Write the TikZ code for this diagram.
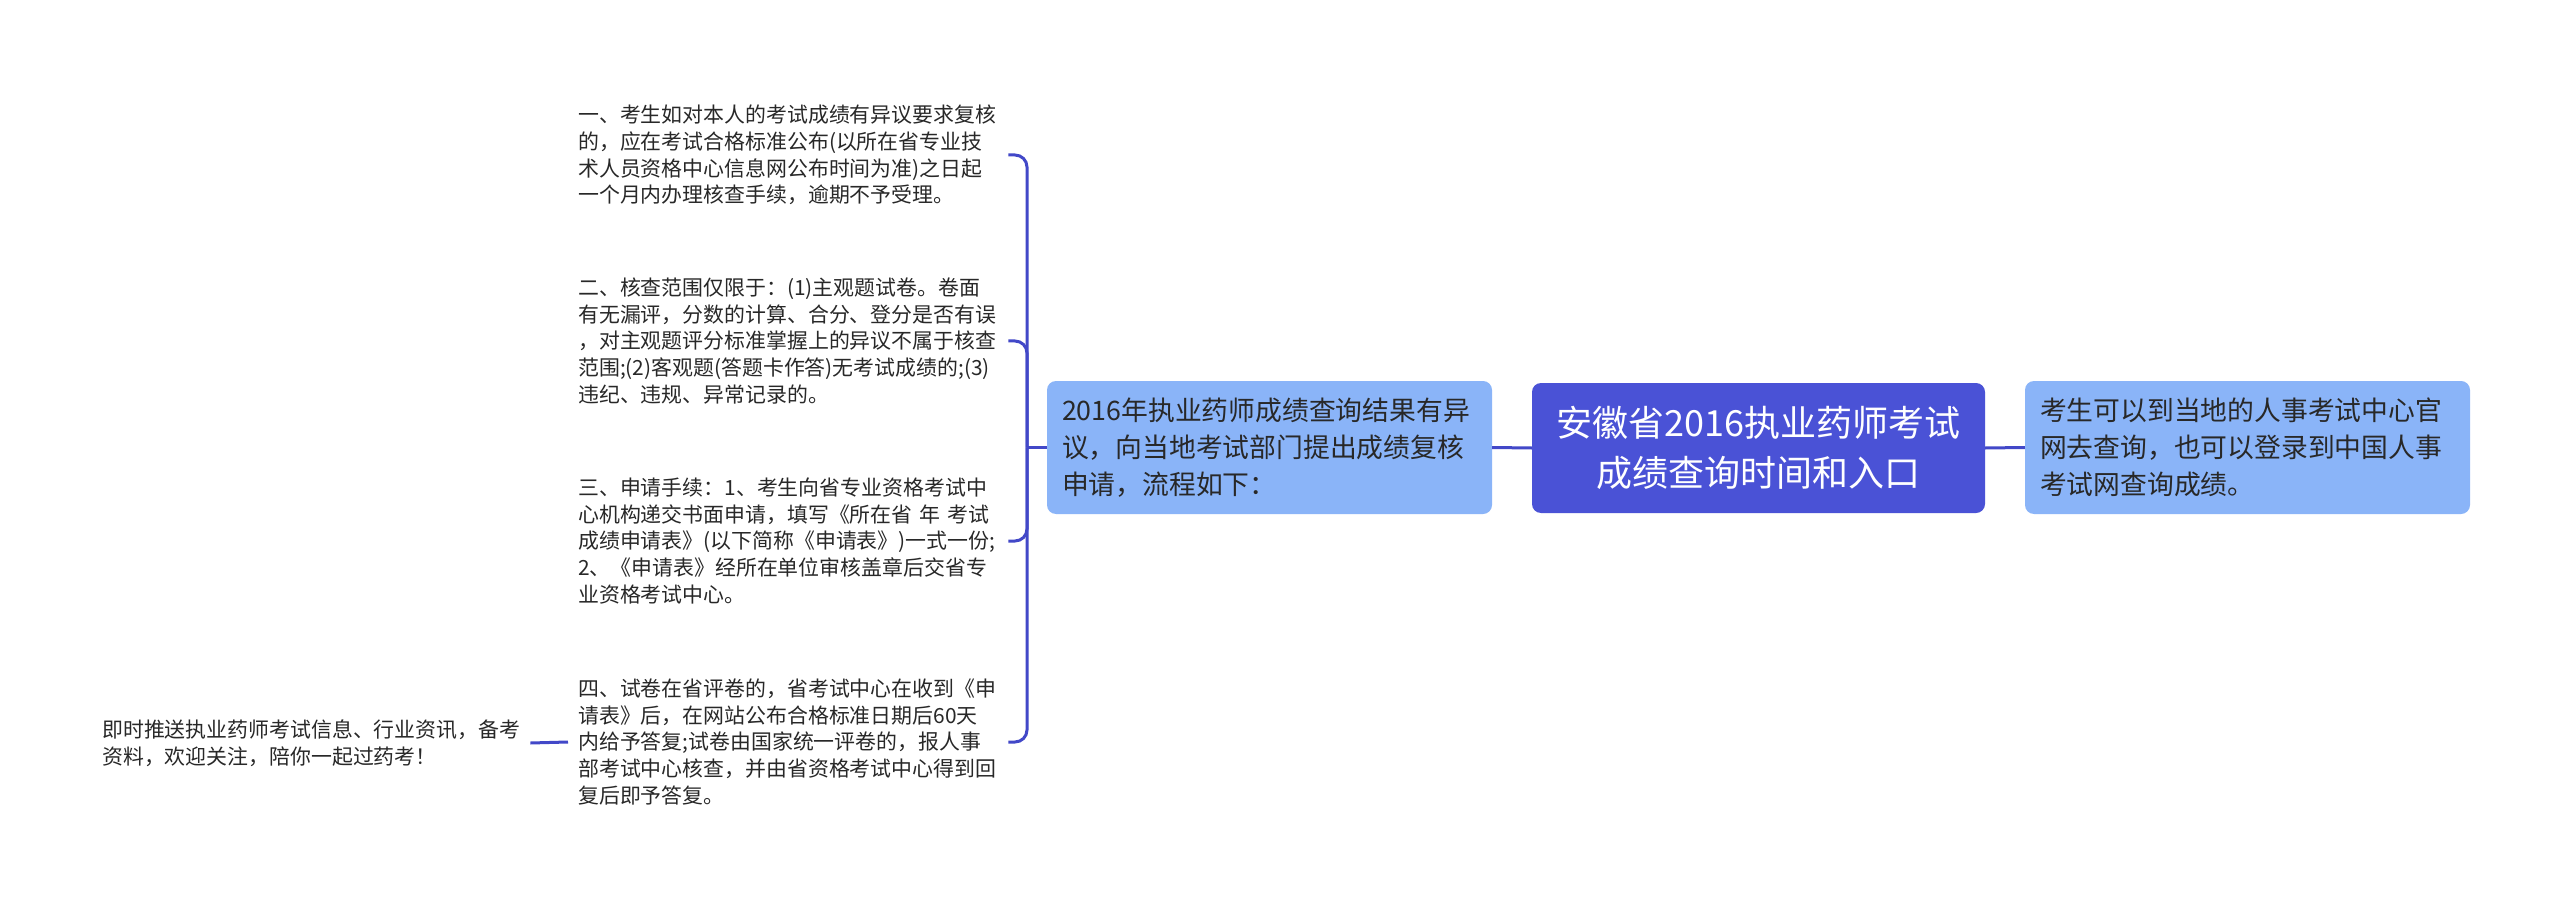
\documentclass[tikz,border=0pt]{standalone}
\usepackage{fontspec}
\setmainfont{Noto Sans CJK SC}
\definecolor{rootblue}{RGB}{74,82,214}
\definecolor{lineblue}{RGB}{66,72,200}
\definecolor{lightblue}{RGB}{138,180,248}
\definecolor{textdark}{RGB}{40,40,40}
\begin{document}
\begin{tikzpicture}[x=1pt,y=-1pt,
  conn/.style={draw=lineblue,line width=3pt},
  rootbox/.style={fill=rootblue,rounded corners=9pt,minimum width=453pt,minimum height=130pt,
    text=white,align=center,font=\fontsize{36}{50}\selectfont,inner sep=0pt},
  subbox/.style={fill=lightblue,rounded corners=9pt,minimum height=133pt,text width=415pt,
    inner xsep=15pt,inner ysep=0pt,align=left,text=textdark,font=\fontsize{26.8}{36.7}\selectfont},
  itemtext/.style={anchor=west,text width=420pt,inner xsep=10pt,inner ysep=0pt,align=left,
    text=textdark,font=\fontsize{20.9}{26.7}\selectfont}]
\useasboundingbox[fill=white] (0,0) rectangle (2560,909);

\node[rootbox] (root) at (1758.5,448) {安徽省2016执业药师考试\\成绩查询时间和入口};
\node[subbox] (sub) at (1269.5,447.5) {2016年执业药师成绩查询结果有异\\议，向当地考试部门提出成绩复核\\申请，流程如下：};
\node[subbox] (right) at (2247.5,447.5) {考生可以到当地的人事考试中心官\\网去查询，也可以登录到中国人事\\考试网查询成绩。};

\node[itemtext] (i1) at (568,155) {一、考生如对本人的考试成绩有异议要求复核\\的，应在考试合格标准公布(以所在省专业技\\术人员资格中心信息网公布时间为准)之日起\\一个月内办理核查手续，逾期不予受理。};
\node[itemtext] (i2) at (568,341) {二、核查范围仅限于：(1)主观题试卷。卷面\\有无漏评，分数的计算、合分、登分是否有误\\，对主观题评分标准掌握上的异议不属于核查\\范围;(2)客观题(答题卡作答)无考试成绩的;(3)\\违纪、违规、异常记录的。};
\node[itemtext] (i3) at (568,541) {三、申请手续：1、考生向省专业资格考试中\\心机构递交书面申请，填写《所在省 年 考试\\成绩申请表》(以下简称《申请表》)一式一份;\\2、《申请表》经所在单位审核盖章后交省专\\业资格考试中心。};
\node[itemtext] (i4) at (568,742) {四、试卷在省评卷的，省考试中心在收到《申\\请表》后，在网站公布合格标准日期后60天\\内给予答复;试卷由国家统一评卷的，报人事\\部考试中心核查，并由省资格考试中心得到回\\复后即予答复。};
\node[itemtext,text width=418pt] (far) at (92,743) {即时推送执业药师考试信息、行业资讯，备考\\资料，欢迎关注，陪你一起过药考！};

\coordinate (j) at (1027,447.5);
\draw[conn] (root.west) -- (sub.east);
\draw[conn] (root.east) -- (right.west);
\draw[conn] (sub.west) -- (j);
\foreach \n in {i1,i2,i3,i4} \draw[conn,rounded corners=12pt] (j) |- (\n.east);
\draw[conn] (i4.west) -- (far.east);
\end{tikzpicture}
\end{document}
